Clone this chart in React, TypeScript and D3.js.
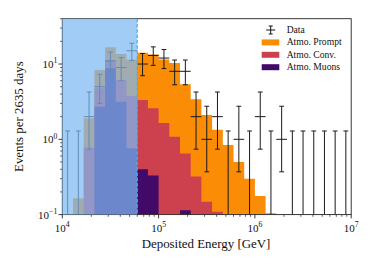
import React from 'react';
import * as d3 from 'd3';

// log10 of deposited-energy bin edges (GeV)
const binEdgesLog = [4.0, 4.1111, 4.2222, 4.3333, 4.4444, 4.5556, 4.6667, 4.7778, 4.8889, 5.0,
  5.1111, 5.2222, 5.3333, 5.4444, 5.5556, 5.6667, 5.7778, 5.8889, 6.0,
  6.1111, 6.2222, 6.3333, 6.4444, 6.5556, 6.6667, 6.7778, 6.8889, 7.0];

// histogram levels per bin (events per 2635 days)
const atmoPrompt = [0, 0.165, 1.9, 8.3, 16.7, 13.6, 11.5, 14.1, 13.4, 11.5, 10.3, 5.4, 3.4, 2.1, 1.34, 0.84, 0.5, 0.3, 0.177, 0.104, 0, 0, 0, 0, 0, 0, 0];
const atmoConv = [0, 0, 0.78, 4.75, 11.3, 6.15, 3.76, 3.33, 2.58, 1.65, 1.08, 0.65, 0.32, 0.148, 0.109, 0, 0, 0, 0, 0, 0, 0, 0, 0, 0, 0, 0];
const atmoMuons = [0, 0, 0, 2.71, 8.8, 3.16, 0.76, 0.4, 0.33, 0, 0, 0.114, 0, 0, 0, 0, 0, 0, 0, 0, 0, 0, 0, 0, 0, 0, 0];

// observed data with error intervals
const dataCounts = [0, 0, 2, 5, 11, 9, 15, 10, 13, 12, 8, 8, 2, 1, 2, 0, 1, 0, 2, 0, 1, 0, 0, 0, 0, 0, 0];
const dataLo = [0, 0, 0.74, 3.0, 7.8, 6.0, 11.1, 7.0, 9.6, 8.7, 5.3, 5.3, 0.74, 0.37, 0.74, 0, 0.37, 0, 0.74, 0, 0.37, 0, 0, 0, 0, 0, 0];
const dataHi = [1.29, 1.29, 4.25, 7.3, 14.4, 12.2, 18.9, 13.8, 16.9, 15.6, 11.3, 11.3, 4.25, 2.75, 4.25, 1.29, 2.75, 1.29, 4.25, 1.29, 2.75, 1.29, 1.29, 1.29, 1.29, 1.29, 1.29];

const threshold = 6e4;
const xTicks = [1e4, 1e5, 1e6, 1e7];
const xTickExp = ['4', '5', '6', '7'];
const yTicks = [0.1, 1, 10];
const yTickExp = ['\u22121', '0', '1'];

const series = [
  { name: 'Atmo. Prompt', values: atmoPrompt, color: '#fb8c06' },
  { name: 'Atmo. Conv.', values: atmoConv, color: '#cd414f' },
  { name: 'Atmo. Muons', values: atmoMuons, color: '#420a68' },
];

const W = 374, H = 267;
const M = { left: 62.3, right: 22.8, top: 18.7, bottom: 52.4 };
const FONT = 'Liberation Serif, DejaVu Serif, serif';

export default function App() {
  const x = d3.scaleLog().domain([1e4, 1e7]).range([M.left, W - M.right]);
  const y = d3.scaleLog().domain([0.1, 40]).range([H - M.bottom, M.top]).clamp(true);
  const x0 = M.left, x1 = W - M.right, y0 = H - M.bottom, y1 = M.top;
  const edges = binEdgesLog.map((e) => Math.pow(10, e));

  const histPath = (vals: number[]) => {
    const p = d3.path();
    vals.forEach((v, i) => {
      if (v <= 0) return;
      const a = x(edges[i]), b = x(edges[i + 1]);
      p.moveTo(a, y0);
      p.lineTo(a, y(v));
      p.lineTo(b, y(v));
      p.lineTo(b, y0);
      p.closePath();
    });
    return p.toString();
  };

  const minorX: number[] = [];
  [1e4, 1e5, 1e6].forEach((d) => { for (let m = 2; m <= 9; m++) minorX.push(d * m); });
  const minorY: number[] = [];
  [0.1, 1, 10].forEach((d) => { for (let m = 2; m <= 9; m++) if (d * m <= 40) minorY.push(d * m); });

  const cap = 2.4;
  const errBars = dataCounts.map((n, i) => {
    const a = x(edges[i]), b = x(edges[i + 1]);
    const c = (a + b) / 2;
    const top = y(dataHi[i]);
    const bot = dataLo[i] > 0 ? y(dataLo[i]) : y0;
    return (
      <g key={i} stroke="#1a1a1a" strokeWidth={1} fill="none">
        <line x1={c} x2={c} y1={top} y2={bot} />
        <line x1={c - cap} x2={c + cap} y1={top} y2={top} />
        {dataLo[i] > 0 && <line x1={c - cap} x2={c + cap} y1={bot} y2={bot} />}
        {n > 0 && <line x1={a} x2={b} y1={y(n)} y2={y(n)} />}
      </g>
    );
  });

  const legendX = 261.7, legendY = 30, rowH = 12.4;

  return (
    <svg width={W} height={H} style={{ position: 'absolute', left: 0, top: 0, background: '#fff' }} fontFamily={FONT}>
      <defs>
        <clipPath id="plot"><rect x={x0} y={y1} width={x1 - x0} height={y0 - y1} /></clipPath>
      </defs>
      <g clipPath="url(#plot)">
        {series.map((s) => (
          <path key={s.name} d={histPath(s.values)} fill={s.color} />
        ))}
        {errBars}
      </g>
      {/* spines */}
      <rect x={x0} y={y1} width={x1 - x0} height={y0 - y1} fill="none" stroke="#222" strokeWidth={0.9} />
      {/* ticks */}
      {xTicks.map((t) => <line key={'xt' + t} x1={x(t)} x2={x(t)} y1={y0} y2={y0 + 3.8} stroke="#222" strokeWidth={0.9} />)}
      {minorX.map((t) => <line key={'xm' + t} x1={x(t)} x2={x(t)} y1={y0} y2={y0 + 2.2} stroke="#222" strokeWidth={0.7} />)}
      {yTicks.map((t) => <line key={'yt' + t} x1={x0 - 3.8} x2={x0} y1={y(t)} y2={y(t)} stroke="#222" strokeWidth={0.9} />)}
      {minorY.map((t) => <line key={'ym' + t} x1={x0 - 2.2} x2={x0} y1={y(t)} y2={y(t)} stroke="#222" strokeWidth={0.7} />)}
      {/* shaded region below threshold */}
      <rect x={x0} y={y1} width={x(threshold) - x0} height={y0 - y1} fill="rgb(125,185,242)" fillOpacity={0.72} />
      <line x1={x(threshold)} x2={x(threshold)} y1={y1} y2={y0} stroke="#45b0e0" strokeWidth={1.2} strokeDasharray="3.5,1.8" />
      {/* tick labels */}
      {xTicks.map((t, i) => (
        <text key={'xl' + t} x={x(t)} y={y0 + 17.5} fontSize={11} textAnchor="middle" fill="#111">
          10<tspan fontSize={7.8} dy={-4.7}>{xTickExp[i]}</tspan>
        </text>
      ))}
      {yTicks.map((t, i) => (
        <text key={'yl' + t} x={x0 - 5} y={y(t) + 4} fontSize={11} textAnchor="end" fill="#111">
          10<tspan fontSize={7.8} dy={-4.7}>{yTickExp[i]}</tspan>
        </text>
      ))}
      {/* axis labels */}
      <text x={206} y={248} fontSize={12.9} textAnchor="middle" fill="#111">Deposited Energy [GeV]</text>
      <text transform={`translate(23,${(y0 + y1) / 2}) rotate(-90)`} fontSize={12.9} textAnchor="middle" fill="#111">Events per 2635 days</text>
      {/* legend */}
      <g>
        <g stroke="#111" strokeWidth={1}>
          <line x1={legendX + 9} x2={legendX + 9} y1={legendY - 4} y2={legendY + 4} />
          <line x1={legendX + 7} x2={legendX + 11} y1={legendY - 4} y2={legendY - 4} />
          <line x1={legendX + 7} x2={legendX + 11} y1={legendY + 4} y2={legendY + 4} />
          <line x1={legendX + 4.5} x2={legendX + 13.5} y1={legendY} y2={legendY} />
        </g>
        <text x={legendX + 25} y={legendY + 3} fontSize={9.6} fill="#111">Data</text>
        {series.map((s, i) => (
          <g key={s.name}>
            <rect x={legendX} y={legendY + rowH * (i + 1) - 3} width={17.6} height={6} fill={s.color} />
            <text x={legendX + 25} y={legendY + rowH * (i + 1) + 3} fontSize={9.6} fill="#111">{s.name}</text>
          </g>
        ))}
      </g>
    </svg>
  );
}
